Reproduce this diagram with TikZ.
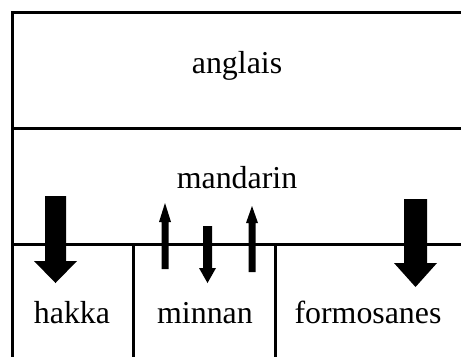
\documentclass[tikz,border=0pt]{standalone}
\usepackage{fontspec}
\setmainfont{Liberation Serif}
\tikzset{
  frame/.style={line width=3bp, line cap=rect},
  lab/.style={anchor=base, inner sep=0pt, font=\fontsize{32}{38}\selectfont},
  blockarrow/.style={fill=black, draw=none}
}
% down arrow: cx, top, headbase, tip, shaft half width, head half width
\newcommand{\downarr}[6]{\fill[blockarrow] (#1-#5,#2) -- (#1+#5,#2) -- (#1+#5,#3) -- (#1+#6,#3) -- (#1,#4) -- (#1-#6,#3) -- (#1-#5,#3) -- cycle;}
\begin{document}
\begin{tikzpicture}[x=1bp,y=-1bp]
\useasboundingbox (0,0) rectangle (461,356);
% frame
\draw[frame] (12,356) -- (12,12) -- (465,12);
\draw[frame] (12,128) -- (465,128);
\draw[frame] (12,244) -- (465,244);
\draw[frame] (133,244) -- (133,360);
\draw[frame] (275,244) -- (275,360);
% labels
\node[lab] (anglais) at (237,73) {anglais};
\node[lab] (mandarin) at (237,188) {mandarin};
\node[lab] (hakka) at (72,323) {hakka};
\node[lab] (minnan) at (205,323) {minnan};
\node[lab] (formosanes) at (368,323) {formosanes};
% arrows
\downarr{55.5}{196}{261}{283}{10.5}{21.5}
\downarr{415.5}{199}{263}{287}{11.5}{21.5}
\downarr{207.5}{226}{268}{283}{4.5}{8.5}
\downarr{165}{269}{222}{203}{3.5}{6}
\downarr{252}{272}{223}{206}{3.5}{6}
\end{tikzpicture}
\end{document}
